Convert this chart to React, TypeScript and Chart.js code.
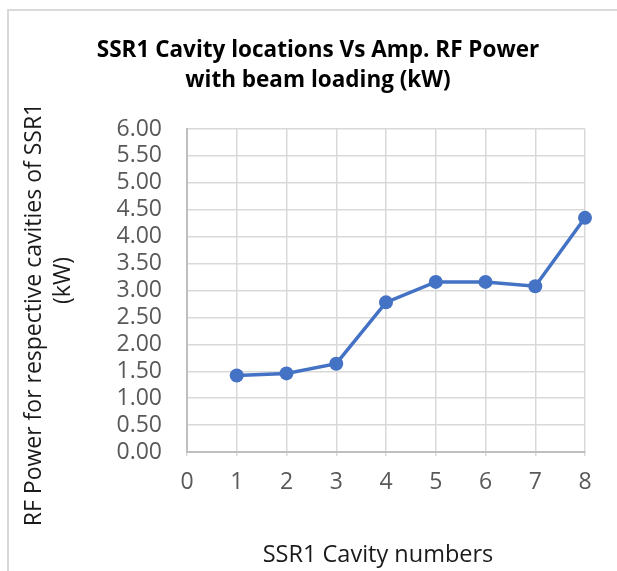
import React, { useEffect, useRef } from "react";
import { Chart, registerables } from "chart.js";

Chart.register(...registerables);

const cavityNumbers = [1, 2, 3, 4, 5, 6, 7, 8];
const rfPowerKW = [1.42, 1.46, 1.64, 2.78, 3.16, 3.16, 3.08, 4.35];
const chartTitle = ["SSR1 Cavity locations Vs Amp. RF Power", "with beam loading (kW)"];
const xTitle = "SSR1 Cavity numbers";
const yTitle = ["RF Power for respective cavities of SSR1", "(kW)"];

const FONT = "'Open Sans', 'Noto Sans', sans-serif";

const titlesPlugin = {
  id: "titlesPlugin",
  afterDraw(chart: any) {
    const { ctx, chartArea } = chart;
    ctx.save();
    ctx.textAlign = "center";
    ctx.textBaseline = "middle";

    // chart title
    ctx.font = `bold 22.5px ${FONT}`;
    ctx.fillStyle = "#000";
    chartTitle.forEach((line, i) => {
      ctx.fillText(line, 318, 51 + i * 30);
    });

    // x axis title
    ctx.font = `23.5px ${FONT}`;
    ctx.fillStyle = "#1a1a1a";
    ctx.fillText(xTitle, 378, 555);

    // y axis title
    ctx.font = `23px ${FONT}`;
    const mid = (chartArea.top + chartArea.bottom) / 2;
    const xs = [34, 63];
    const ys = [mid + 24, mid - 10];
    yTitle.forEach((line, i) => {
      ctx.save();
      ctx.translate(xs[i], ys[i]);
      ctx.rotate(-Math.PI / 2);
      ctx.fillText(line, 0, 0);
      ctx.restore();
    });
    ctx.restore();
  },
};

export default function App() {
  const ref = useRef<HTMLCanvasElement>(null);
  useEffect(() => {
    if (!ref.current) return;
    const chart = new Chart(ref.current, {
      type: "line",
      data: {
        datasets: [
          {
            data: cavityNumbers.map((x, i) => ({ x, y: rfPowerKW[i] })),
            borderColor: "#4472c4",
            backgroundColor: "#4472c4",
            borderWidth: 3.5,
            pointRadius: 7,
            pointHoverRadius: 7,
            pointBorderWidth: 0,
            clip: false as any,
            tension: 0,
          },
        ],
      },
      options: {
        animation: false,
        responsive: false,
        layout: { padding: { left: 0, right: 32, top: 129, bottom: 0 } },
        plugins: {
          legend: { display: false },
          tooltip: { enabled: false },
          title: { display: false },
        },
        scales: {
          x: {
            type: "linear",
            min: 0,
            max: 8,
            ticks: {
              stepSize: 1,
              color: "#595959",
              font: { family: FONT, size: 23 },
              padding: 13,
              autoSkip: false,
            },
            grid: { color: "#d9d9d9", lineWidth: 1.5, tickLength: 4, tickColor: "#d9d9d9" },
            border: { color: "#bfbfbf", width: 2 },
            title: { display: false },
            afterFit(scale: any) {
              scale.height = 119;
            },
          },
          y: {
            min: 0,
            max: 6,
            ticks: {
              stepSize: 0.5,
              color: "#595959",
              font: { family: FONT, size: 23, lineHeight: 1 },
              padding: 25,
              autoSkip: false,
              callback: (v: any) => Number(v).toFixed(2),
            },
            grid: { color: "#d9d9d9", lineWidth: 1.5, drawTicks: false },
            border: { color: "#bfbfbf", width: 2 },
            afterFit(scale: any) {
              scale.width = 187;
            },
          },
        },
      },
      plugins: [titlesPlugin],
    });
    return () => chart.destroy();
  }, []);

  return (
    <div style={{ position: "fixed", left: 0, top: 0, width: 617, height: 571, overflow: "hidden", background: "#fff" }}>
      <div
        style={{
          position: "absolute",
          left: 7,
          top: 9,
          width: 640,
          height: 600,
          borderTop: "2px solid #d9d9d9",
          borderLeft: "2px solid #d9d9d9",
        }}
      />
      <canvas ref={ref} width={617} height={571} style={{ position: "absolute", left: 0, top: 0 }} />
    </div>
  );
}
